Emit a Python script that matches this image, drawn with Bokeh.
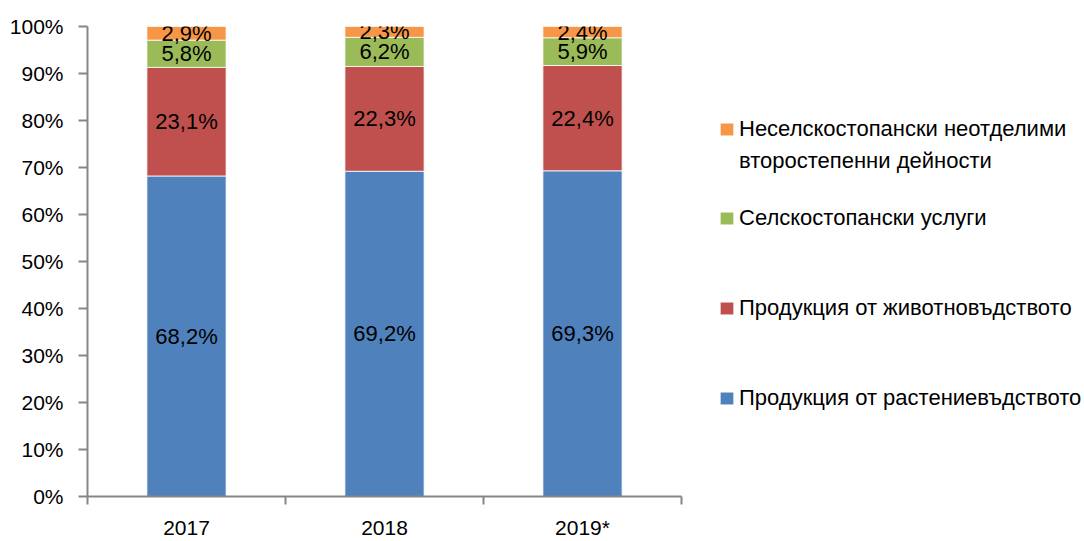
from bokeh.plotting import figure
from bokeh.models import ColumnDataSource, FixedTicker, Legend, LegendItem, Range1d
from bokeh.core.properties import value
from bokeh.embed import file_html
from bokeh.resources import INLINE

years = ["2017", "2018", "2019*"]
crop = [68.2, 69.2, 69.3]
livestock = [23.1, 22.3, 22.4]
services = [5.8, 6.2, 5.9]
secondary = [2.9, 2.3, 2.4]
series_names = [
    "Продукция от растениевъдството",
    "Продукция от животновъдството",
    "Селскостопански услуги",
    "Неселскостопански неотделими",
]
secondary_name_line2 = "второстепенни дейности"
colors = ["#4F81BD", "#C0504D", "#9BBB59", "#F79646"]
y_ticks = list(range(0, 101, 10))

FONT = "Liberation Sans"
AX = "#868686"

W, H = 1084, 541
LEFT, TOP, BOTTOM = 87, 26, 44
CAT_PX = 198  # pixel width of one category slot
frame_w = W - LEFT
n = len(years)

p = figure(width=W, height=H, output_backend="svg", toolbar_location=None,
           x_range=Range1d(0, frame_w / CAT_PX), y_range=Range1d(0, 100),
           min_border_left=LEFT, min_border_top=TOP, min_border_right=0, min_border_bottom=BOTTOM)
p.outline_line_color = None
p.grid.visible = False

xs = [i + 0.5 for i in range(n)]
series = [crop, livestock, services, secondary]
bottom = [0.0] * n
renderers = []
lx, ly, lt = [], [], []
for vals, col in zip(series, colors):
    top = [b + v for b, v in zip(bottom, vals)]
    src = ColumnDataSource(dict(x=xs, bottom=bottom, top=top))
    r = p.vbar(x="x", bottom="bottom", top="top", width=0.4, source=src,
               fill_color=col, line_color="white", line_width=0.8)
    renderers.append(r)
    for x, b, t, v in zip(xs, bottom, top, vals):
        lx.append(x)
        ly.append((b + t) / 2)
        lt.append(f"{v:.1f}".replace(".", ",") + "%")
    bottom = top

p.text(x=lx, y=ly, text=lt, text_align="center", text_baseline="middle",
       text_font=value(FONT), text_font_size="22px", text_color="black")

# invisible renderer for the second line of the wrapped legend label
blank = p.vbar(x=[], top=[], width=0.4, fill_alpha=0, line_alpha=0)

# axes
p.yaxis.ticker = FixedTicker(ticks=y_ticks)
p.yaxis.major_label_overrides = {t: f"{t}%" for t in y_ticks}
p.yaxis.minor_tick_line_color = None
p.yaxis.major_tick_out = 9
p.yaxis.major_tick_in = 0
p.yaxis.major_label_standoff = 15

p.xaxis.ticker = FixedTicker(ticks=xs, minor_ticks=list(range(n + 1)))
p.xaxis.bounds = (0, n)
p.xaxis.major_label_overrides = {x: y for x, y in zip(xs, years)}
p.xaxis.major_tick_out = 0
p.xaxis.major_tick_in = 0
p.xaxis.minor_tick_out = 8
p.xaxis.minor_tick_in = 0
p.xaxis.minor_tick_line_color = AX
p.xaxis.major_label_standoff = 11

for ax in (p.xaxis, p.yaxis):
    ax.axis_line_color = AX
    ax.axis_line_width = 2
    ax.major_tick_line_color = AX
    ax.major_tick_line_width = 2
    ax.minor_tick_line_width = 2
    ax.major_label_text_font = FONT
    ax.major_label_text_font_size = "21px"
    ax.major_label_text_color = "black"

common = dict(border_line_color=None, background_fill_alpha=0, label_text_font=FONT,
              label_text_font_size="22px", label_text_color="black",
              glyph_width=17, glyph_height=16, label_standoff=4, label_height=31,
              margin=0, padding=0)

legend_a = Legend(items=[LegendItem(label=series_names[3], renderers=[renderers[3]]),
                         LegendItem(label=secondary_name_line2, renderers=[blank])],
                  location=(631, 320), spacing=1, **common)
legend_b = Legend(items=[LegendItem(label=series_names[i], renderers=[renderers[i]]) for i in [2, 1, 0]],
                  location=(631, 83), spacing=59, **common)
p.add_layout(legend_a)
p.add_layout(legend_b)

open("out.html", "w").write(file_html(p, INLINE))
